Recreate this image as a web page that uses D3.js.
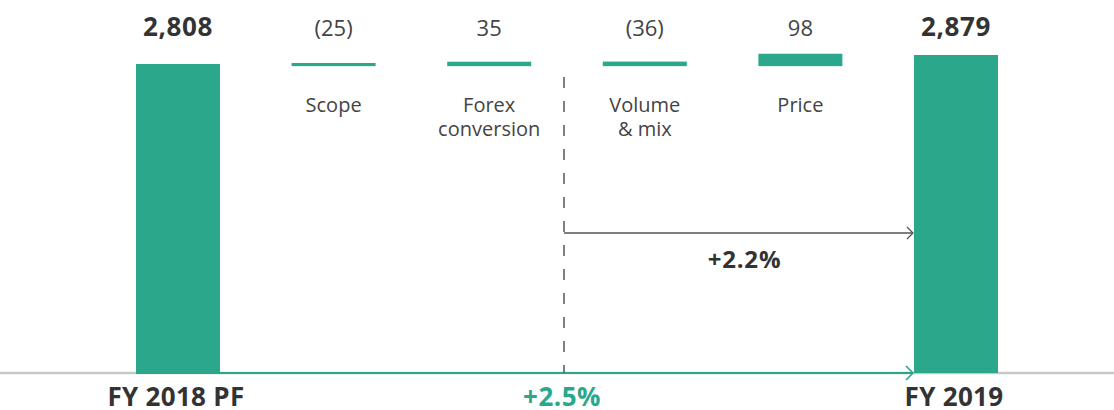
<!DOCTYPE html>
<html>
<head>
<meta charset="utf-8">
<script src="https://cdn.jsdelivr.net/npm/d3@7"></script>
<style>
  html, body { margin: 0; padding: 0; background: #fff; }
  svg { display: block; }
  text { font-family: "Open Sans", Lato, sans-serif; }
</style>
</head>
<body>
<svg id="chart" width="1114" height="410"></svg>
<script>
// ---- data ----
const categories = ["FY 2018 PF", "Scope", "Forex conversion", "Volume & mix", "Price", "FY 2019"];
const categoryLines = [["FY 2018 PF"], ["Scope"], ["Forex", "conversion"], ["Volume", "& mix"], ["Price"], ["FY 2019"]];
const isTotal = [true, false, false, false, false, true];
const values = [2808, -25, 35, -36, 98, 2879];
const valueLabels = ["2,808", "(25)", "35", "(36)", "98", "2,879"];
const growthLabels = ["+2.2%", "+2.5%"];
const axisFloor = 370;      // broken axis start value
const floatBase = 2791;     // base level of the floating step bars

// ---- layout ----
const W = 1114, H = 410;
const green = "#2ba88b";
const dark = "#333333";
const mid = "#444444";
const baseY = 373;

const svg = d3.select("#chart");

const x = d3.scalePoint().domain(categories).range([178, 956]);
const barW = 84;
const y = d3.scaleLinear().domain([axisFloor, 2879]).range([baseY, 55]);

// grey axis line
svg.append("line")
  .attr("x1", 0).attr("x2", W).attr("y1", baseY).attr("y2", baseY)
  .attr("stroke", "#c8c8c8").attr("stroke-width", 2.5);

// green total-growth arrow along the baseline
const xStart = x(categories[0]) - barW / 2;
const xEnd = x(categories[5]) - barW / 2 - 1;
svg.append("line")
  .attr("x1", xStart).attr("x2", xEnd).attr("y1", baseY).attr("y2", baseY)
  .attr("stroke", green).attr("stroke-width", 2);
svg.append("path")
  .attr("d", `M${xEnd - 7},${baseY - 7} L${xEnd},${baseY} L${xEnd - 7},${baseY + 7}`)
  .attr("fill", "none").attr("stroke", green).attr("stroke-width", 1.6);

// bars
const data = categories.map((c, i) => ({ c, v: values[i], total: isTotal[i], label: valueLabels[i], lines: categoryLines[i] }));

svg.selectAll("rect.bar").data(data).enter().append("rect")
  .attr("class", "bar")
  .attr("x", d => x(d.c) - barW / 2)
  .attr("width", barW)
  .attr("y", d => d.total ? y(d.v) : y(floatBase + Math.abs(d.v)))
  .attr("height", d => d.total ? baseY - y(d.v) : y(floatBase) - y(floatBase + Math.abs(d.v)))
  .attr("fill", green);

// value labels on top
svg.selectAll("text.val").data(data).enter().append("text")
  .attr("class", "val")
  .attr("x", d => x(d.c))
  .attr("y", 36)
  .attr("text-anchor", "middle")
  .attr("fill", d => d.total ? dark : mid)
  .attr("font-size", d => d.total ? 26 : 22)
  .attr("font-weight", d => d.total ? 700 : 400)
  .attr("letter-spacing", d => d.total ? 0.6 : 0)
  .text(d => d.label);

// step category labels (under the floating bars)
const steps = data.filter(d => !d.total);
const stepText = svg.selectAll("text.cat").data(steps).enter().append("text")
  .attr("class", "cat")
  .attr("text-anchor", "middle")
  .attr("fill", mid)
  .attr("font-size", 20);
stepText.selectAll("tspan").data(d => d.lines.map(l => ({ l, xc: x(d.c) }))).enter().append("tspan")
  .attr("x", d => d.xc)
  .attr("y", (d, i) => 112 + i * 24)
  .text(d => d.l);

// total category labels at the bottom
svg.selectAll("text.tot").data(data.filter(d => d.total)).enter().append("text")
  .attr("class", "tot")
  .attr("x", d => x(d.c) - 2)
  .attr("y", 406)
  .attr("text-anchor", "middle")
  .attr("fill", dark)
  .attr("font-size", 26)
  .attr("font-weight", 700)
  .attr("letter-spacing", 0.3)
  .text(d => d.lines[0]);

// dashed divider between Forex and Volume
const xDiv = (x(categories[2]) + x(categories[3])) / 2 - 3;
svg.append("line")
  .attr("x1", xDiv).attr("x2", xDiv).attr("y1", 77).attr("y2", baseY)
  .attr("stroke", "#555").attr("stroke-width", 1.5)
  .attr("stroke-dasharray", "11,13");

// organic growth arrow
const arrowY = 233;
svg.append("line")
  .attr("x1", xDiv).attr("x2", xEnd).attr("y1", arrowY).attr("y2", arrowY)
  .attr("stroke", "#555").attr("stroke-width", 1.3);
svg.append("path")
  .attr("d", `M${xEnd - 6},${arrowY - 6} L${xEnd},${arrowY} L${xEnd - 6},${arrowY + 6}`)
  .attr("fill", "none").attr("stroke", "#555").attr("stroke-width", 1.3);

svg.append("text")
  .attr("x", (xDiv + xEnd) / 2 + 6)
  .attr("y", 268)
  .attr("text-anchor", "middle")
  .attr("fill", dark)
  .attr("font-size", 24)
  .attr("font-weight", 700)
  .attr("letter-spacing", 0.8)
  .text(growthLabels[0]);

svg.append("text")
  .attr("x", xDiv - 2)
  .attr("y", 406)
  .attr("text-anchor", "middle")
  .attr("fill", green)
  .attr("font-size", 26)
  .attr("font-weight", 700)
  .attr("letter-spacing", 0.5)
  .text(growthLabels[1]);
</script>
</body>
</html>
